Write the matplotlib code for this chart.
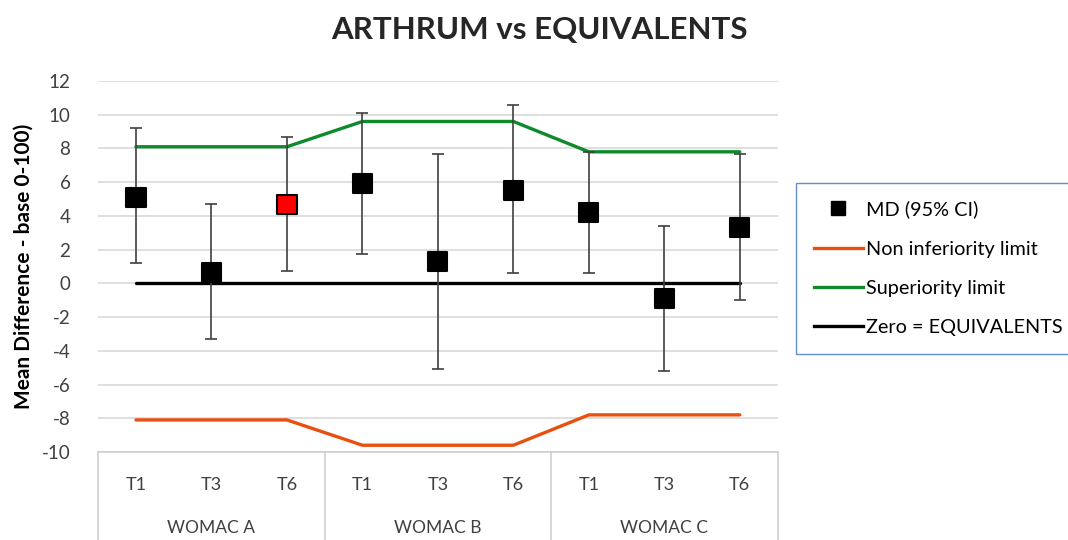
import matplotlib
matplotlib.use("Agg")
import matplotlib.pyplot as plt
from matplotlib.lines import Line2D
import numpy as np

plt.rcParams['font.family'] = ['Lato', 'DejaVu Sans']

groups = ["WOMAC A", "WOMAC B", "WOMAC C"]
times = ["T1", "T3", "T6"]
md = [5.1, 0.65, 4.7, 5.9, 1.3, 5.5, 4.2, -0.9, 3.3]
ci_low = [1.2, -3.3, 0.75, 1.75, -5.1, 0.6, 0.6, -5.2, -1.0]
ci_high = [9.2, 4.7, 8.65, 10.1, 7.65, 10.55, 7.8, 3.4, 7.7]
superiority = [8.1, 8.1, 8.1, 9.6, 9.6, 9.6, 7.8, 7.8, 7.8]
non_inferiority = [-8.1, -8.1, -8.1, -9.6, -9.6, -9.6, -7.8, -7.8, -7.8]
zero = [0] * 9
highlight = [False, False, True, False, False, False, False, False, False]
yticks = list(range(-10, 13, 2))

fig = plt.figure(figsize=(10.68, 5.4), dpi=100)
ax = fig.add_axes([0.092, 0.163, 0.636, 0.687])
x = np.arange(len(md))

for yt in yticks:
    ax.axhline(yt, color='#d9d9d9', lw=1.2, zorder=0)

ax.plot(x, non_inferiority, color='#e8500f', lw=2.4, zorder=2, solid_capstyle='round')
ax.plot(x, superiority, color='#0e8a2b', lw=2.4, zorder=2, solid_capstyle='round')
ax.plot(x, zero, color='black', lw=2.4, zorder=2, solid_capstyle='round')

md_a = np.array(md)
yerr = np.vstack([md_a - np.array(ci_low), np.array(ci_high) - md_a])
ax.errorbar(x, md, yerr=yerr, fmt='none', ecolor='#404040', elinewidth=1.2,
            capsize=4.5, capthick=1.2, zorder=3)
colors = ['#ff0000' if h else 'black' for h in highlight]
ax.scatter(x, md, marker='s', s=190, c=colors, edgecolors='black', linewidths=1.5, zorder=4)

ax.set_xlim(-0.5, len(md) - 0.5)
ax.set_ylim(-10, 12)
ax.set_yticks(yticks)
ax.set_yticklabels([str(t) for t in yticks], fontsize=13.5, color='#404040')
ax.tick_params(axis='y', length=0, pad=20)
ax.set_xticks([])
for s in ax.spines.values():
    s.set_visible(False)

ax.set_ylabel("Mean Difference - base 0-100)", fontsize=15, fontweight='bold', labelpad=6)

# category axis
trans = ax.get_xaxis_transform()
for i in range(len(md)):
    ax.text(i, -0.089, times[i % 3], transform=trans, ha='center', va='center',
            fontsize=13, color='#404040')
for g, name in enumerate(groups):
    ax.text(3 * g + 1, -0.205, name, transform=trans, ha='center', va='center',
            fontsize=12.5, color='#404040')
for b in [-0.5, 2.5, 5.5, 8.5]:
    ax.plot([b, b], [0, -0.3], transform=trans, color='#d0d0d0', lw=1.2, clip_on=False)
ax.plot([-0.5, 8.5], [0, 0], transform=trans, color='#d0d0d0', lw=1.2, clip_on=False)

fig.text(0.505, 0.945, "ARTHRUM vs EQUIVALENTS", ha='center', va='center',
         fontsize=22.5, fontweight='bold', color='#262626')

handles = [
    Line2D([], [], marker='s', color='none', markerfacecolor='black', markeredgecolor='black', markersize=10),
    Line2D([], [], color='#e8500f', lw=2.4),
    Line2D([], [], color='#0e8a2b', lw=2.4),
    Line2D([], [], color='black', lw=2.4),
]
labels = ["MD (95% CI)", "Non inferiority limit", "Superiority limit", "Zero = EQUIVALENTS"]
leg = fig.legend(handles, labels, loc='upper left', bbox_to_anchor=(0.745, 0.662),
                 frameon=True, fancybox=False, fontsize=14.3, handlelength=2.5,
                 handletextpad=0.15, labelspacing=1.12, borderpad=0.9, borderaxespad=0)
leg.get_frame().set_edgecolor('#4472c4')
leg.get_frame().set_linewidth(1.0)

fig.savefig("out.png", dpi=100)
